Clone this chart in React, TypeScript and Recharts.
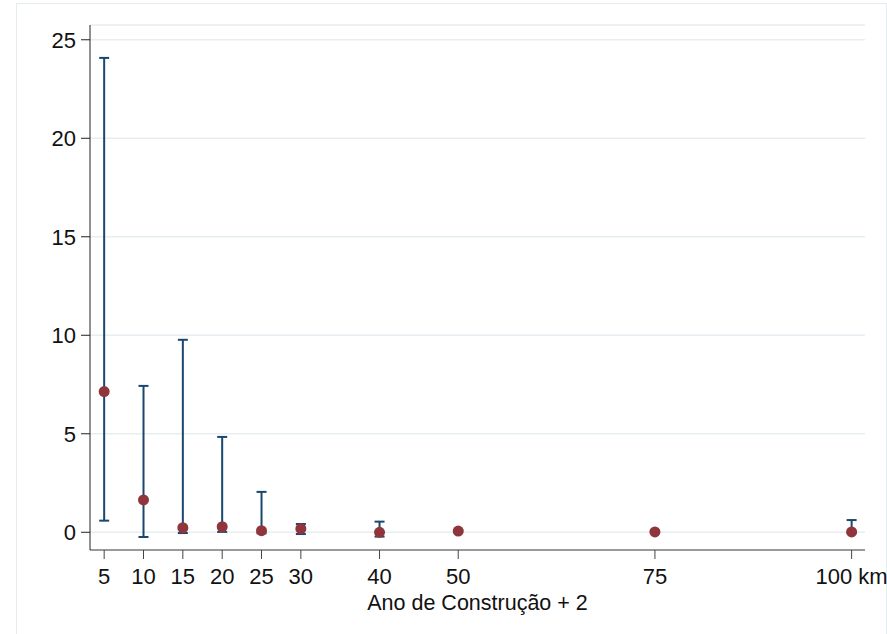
import React from 'react';
import {
  ScatterChart,
  Scatter,
  XAxis,
  YAxis,
  CartesianGrid,
  ErrorBar,
  Label,
} from 'recharts';

// distancia (km) e coeficientes estimados com intervalo de confianca
const distances = [5, 10, 15, 20, 25, 30, 40, 50, 75, 100];
const coef = [7.14, 1.64, 0.23, 0.28, 0.08, 0.18, 0.0, 0.06, 0.02, 0.02];
const lower = [0.59, -0.24, -0.04, 0.02, -0.05, -0.09, -0.22, 0.0, 0.0, -0.02];
const upper = [24.08, 7.43, 9.77, 4.84, 2.05, 0.42, 0.54, 0.12, 0.04, 0.62];

const xTicks = [5, 10, 15, 20, 25, 30, 40, 50, 75, 100];
const yTicks = [0, 5, 10, 15, 20, 25];
const xTitle = 'Ano de Construção + 2';

const data = distances.map((d, i) => ({
  dist: d,
  coef: coef[i],
  err: [coef[i] - lower[i], upper[i] - coef[i]],
}));

const font = '"Liberation Sans", Arial, sans-serif';

const Dot = (props: any) => {
  const { cx, cy } = props;
  if (cx == null || cy == null) return null;
  return <circle cx={cx} cy={cy} r={5.5} fill="#90353b" />;
};

const App: React.FC = () => {
  return (
    <div style={{ position: 'absolute', left: 0, top: 0, width: 887, height: 634, background: '#fff' }}>
      <div
        style={{
          position: 'absolute',
          left: 16,
          top: 3,
          width: 869,
          height: 640,
          borderTop: '1px solid #e4ecef',
          borderLeft: '1px solid #e4ecef',
          borderRight: '1px solid #e4ecef',
        }}
      />
      <div style={{ position: 'absolute', left: 0, top: 0 }}>
        <ScatterChart
          width={887}
          height={634}
          margin={{ top: 25, right: 22, bottom: 0, left: 0 }}
          style={{ fontFamily: font }}
        >
          <CartesianGrid horizontal vertical={false} stroke="#e6eef1" strokeWidth={1.5} />
          <XAxis
            type="number"
            dataKey="dist"
            domain={[3.2, 101.7]}
            ticks={xTicks}
            allowDataOverflow
            interval={0}
            height={84}
            tickSize={9}
            tickMargin={9}
            stroke="#444"
            tick={{ fill: '#111', fontSize: 22 }}
            tickFormatter={(v: number) => (v === 100 ? '100 km' : String(v))}
          >
            <Label value={xTitle} position="insideBottom" offset={24} fill="#111" fontSize={21.5} />
          </XAxis>
          <YAxis
            type="number"
            dataKey="coef"
            domain={[-0.9, 25.75]}
            ticks={yTicks}
            allowDataOverflow
            width={90}
            tickSize={9}
            tickMargin={5}
            stroke="#222"
            tick={{ fill: '#111', fontSize: 22 }}
          />
          <Scatter data={data} shape={<Dot />} isAnimationActive={false}>
            <ErrorBar dataKey="err" direction="y" width={5} stroke="#1a476f" strokeWidth={2} />
          </Scatter>
        </ScatterChart>
      </div>
    </div>
  );
};

export default App;
